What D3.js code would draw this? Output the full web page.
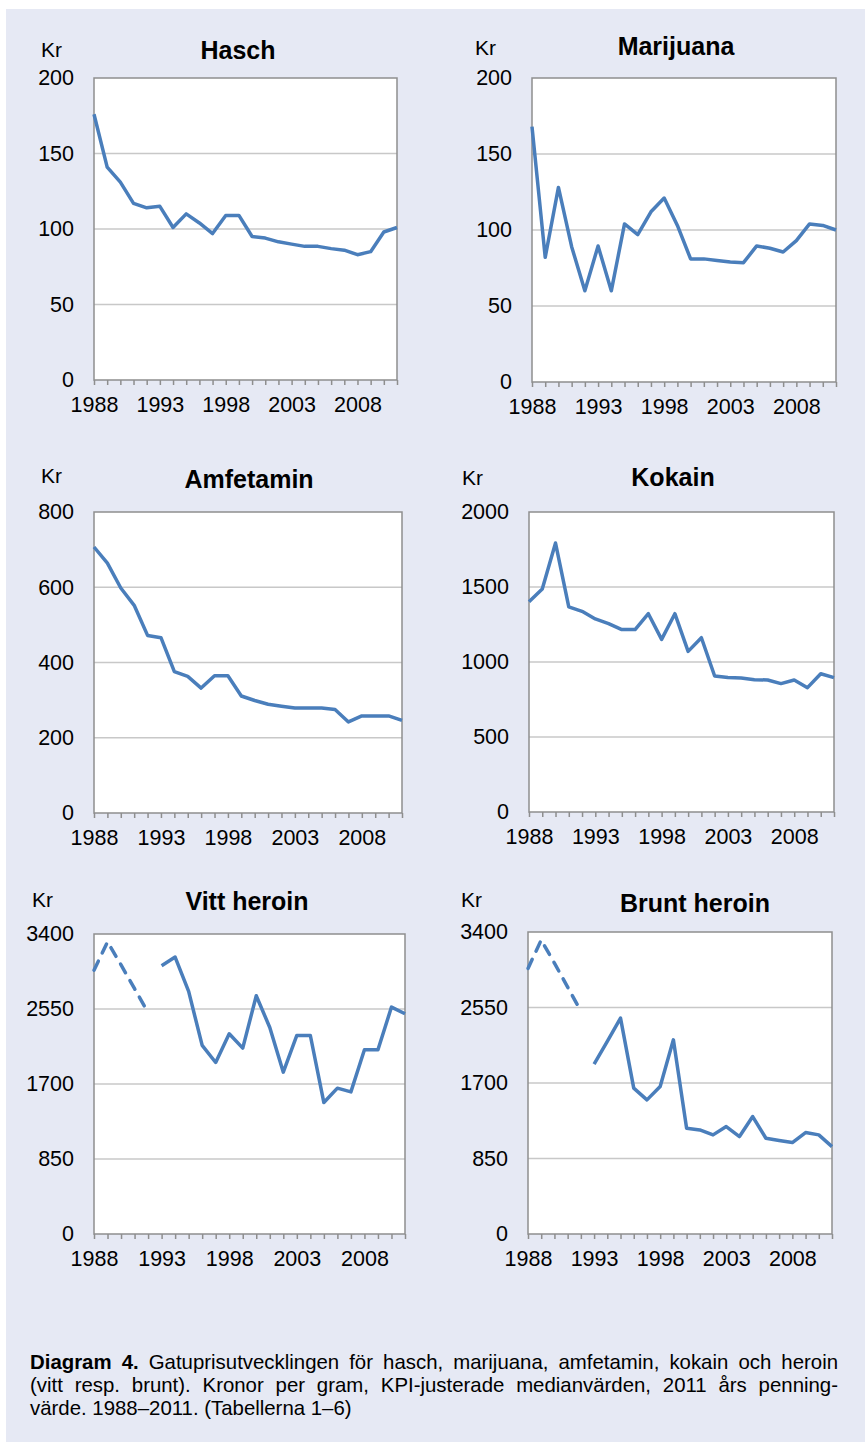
<!DOCTYPE html>
<html>
<head>
<meta charset="utf-8">
<script src="https://cdn.jsdelivr.net/npm/d3@7"></script>
<style>
  body { margin: 0; background: #fff; }
  svg { display: block; font-family: 'Liberation Sans', Arial, sans-serif; }
</style>
</head>
<body>
<script>
// years on the x axis
const years = [1988, 1989, 1990, 1991, 1992, 1993, 1994, 1995, 1996, 1997, 1998, 1999,
               2000, 2001, 2002, 2003, 2004, 2005, 2006, 2007, 2008, 2009, 2010, 2011];
const yearLabels = [1988, 1993, 1998, 2003, 2008];

// kronor per gram
const hasch = [176, 141, 131, 117, 114, 115, 101, 110, 104, 97, 109, 109,
               95, 94, 91.5, 90, 88.5, 88.5, 87, 86, 83, 85, 98, 101];
const marijuana = [168, 82, 128, 89, 60, 89.5, 60, 104, 97, 112, 121, 103,
                   81, 81, 80, 79, 78.5, 89.5, 88, 85.5, 93, 104, 103, 100];
const amfetamin = [707, 664, 598, 552, 472, 466, 376, 363, 332, 365, 365, 311,
                   299, 289, 284, 279, 279, 279, 275, 242, 258, 258, 258, 246];
const kokain = [1402, 1487, 1793, 1367, 1338, 1287, 1256, 1216, 1216, 1322, 1151, 1322,
                1071, 1162, 907, 896, 893, 882, 880, 856, 880, 829, 922, 896];
// heroin 1988-1992 (not split in white/brown), drawn dashed
const heroinTidig = [2990, 3310, 3050, 2780, 2510, null, null, null, null, null, null, null,
                     null, null, null, null, null, null, null, null, null, null, null, null];
const vittHeroin = [null, null, null, null, null, 3041, 3139, 2749, 2137, 1944, 2269, 2107,
                    2700, 2341, 1834, 2250, 2250, 1490, 1653, 1611, 2088, 2088, 2572, 2496];
const bruntHeroin = [null, null, null, null, null, 1912, 2168, 2431, 1642, 1510, 1660, 2186,
                     1191, 1172, 1116, 1210, 1097, 1322, 1078, 1052, 1029, 1142, 1116, 984];

const ticksHasch = [0, 50, 100, 150, 200];
const ticksAmf = [0, 200, 400, 600, 800];
const ticksKokain = [0, 500, 1000, 1500, 2000];
const ticksHeroin = [0, 850, 1700, 2550, 3400];

const titles = ['Hasch', 'Marijuana', 'Amfetamin', 'Kokain', 'Vitt heroin', 'Brunt heroin'];

const captionBold = 'Diagram 4.';
const captionLines = [
    ' Gatuprisutvecklingen för hasch, marijuana, amfetamin, kokain och heroin',
    '(vitt resp. brunt). Kronor per gram, KPI-justerade medianvärden, 2011 års penning-',
    'värde. 1988–2011. (Tabellerna 1–6)'
];

// panel layout
const panels = [
    {title: titles[0], ticks: ticksHasch, series: [hasch], l: 94, r: 397, t: 78, b: 380, tx: 238, ty: 59, kx: 41, ky: 57},
    {title: titles[1], ticks: ticksHasch, series: [marijuana], l: 532, r: 836, t: 78, b: 382, tx: 676, ty: 55, kx: 475, ky: 55},
    {title: titles[2], ticks: ticksAmf, series: [amfetamin], l: 94, r: 402, t: 512, b: 813, tx: 249, ty: 488, kx: 41, ky: 483},
    {title: titles[3], ticks: ticksKokain, series: [kokain], l: 529, r: 834, t: 512, b: 812, tx: 673, ty: 486, kx: 462, ky: 485},
    {title: titles[4], ticks: ticksHeroin, series: [vittHeroin], dashed: heroinTidig, l: 94, r: 405, t: 934, b: 1234, tx: 247, ty: 910, kx: 32, ky: 907},
    {title: titles[5], ticks: ticksHeroin, series: [bruntHeroin], dashed: heroinTidig, l: 528, r: 832, t: 932, b: 1234, tx: 695, ty: 912, kx: 461, ky: 907}
];

const W = 865, H = 1442;
const lineColor = '#4a7ebb';
const fontFam = "'Liberation Sans', Arial, sans-serif";

const svg = d3.select('body').append('svg')
    .attr('width', W)
    .attr('height', H);

svg.append('rect')
    .attr('x', 6).attr('y', 9)
    .attr('width', W - 6).attr('height', H - 9)
    .attr('fill', '#e6e9f4');

panels.forEach(p => {
    const g = svg.append('g');

    const x = d3.scaleLinear()
        .domain([years[0], years[years.length - 1]])
        .range([p.l, p.r]);
    const y = d3.scaleLinear()
        .domain([p.ticks[0], p.ticks[p.ticks.length - 1]])
        .range([p.b, p.t]);

    g.append('rect')
        .attr('x', p.l).attr('y', p.t)
        .attr('width', p.r - p.l).attr('height', p.b - p.t)
        .attr('fill', '#fff');

    // gridlines
    g.selectAll('.grid')
        .data(p.ticks.slice(1, -1))
        .enter()
        .append('line')
        .attr('x1', p.l).attr('x2', p.r)
        .attr('y1', d => y(d)).attr('y2', d => y(d))
        .attr('stroke', '#c8c8c8')
        .attr('stroke-width', 1.5);

    // frame
    g.append('rect')
        .attr('x', p.l).attr('y', p.t)
        .attr('width', p.r - p.l).attr('height', p.b - p.t)
        .attr('fill', 'none')
        .attr('stroke', '#8e8e8e')
        .attr('stroke-width', 1.5);

    const xAxis = d3.axisBottom(x)
        .tickValues(years)
        .tickSize(5)
        .tickPadding(12)
        .tickFormat(d => yearLabels.includes(d) ? d : '');

    const xg = g.append('g')
        .attr('transform', 'translate(0,' + p.b + ')')
        .call(xAxis);
    xg.select('.domain').remove();
    xg.selectAll('line').attr('stroke', '#8e8e8e').attr('stroke-width', 1.5);
    xg.selectAll('text')
        .attr('fill', '#000')
        .style('font-size', '21.5px')
        .style('font-family', fontFam);

    const yAxis = d3.axisLeft(y)
        .tickValues(p.ticks)
        .tickSize(0)
        .tickPadding(20)
        .tickFormat(d3.format('d'));

    const yg = g.append('g')
        .attr('transform', 'translate(' + p.l + ',0)')
        .call(yAxis);
    yg.select('.domain').remove();
    yg.selectAll('text')
        .attr('fill', '#000')
        .style('font-size', '21.5px')
        .style('font-family', fontFam);

    const line = d3.line()
        .defined(d => d != null)
        .x((d, i) => x(years[i]))
        .y(d => y(d));

    if (p.dashed) {
        g.append('path')
            .datum(p.dashed)
            .attr('d', line)
            .attr('fill', 'none')
            .attr('stroke', lineColor)
            .attr('stroke-width', 3.5)
            .attr('stroke-linecap', 'round')
            .attr('stroke-dasharray', '10,9');
    }

    p.series.forEach(s => {
        g.append('path')
            .datum(s)
            .attr('d', line)
            .attr('fill', 'none')
            .attr('stroke', lineColor)
            .attr('stroke-width', 3.5)
            .attr('stroke-linejoin', 'round');
    });

    g.append('text')
        .attr('x', p.tx).attr('y', p.ty)
        .attr('text-anchor', 'middle')
        .style('font-size', '25px')
        .style('font-weight', 'bold')
        .text(p.title);

    g.append('text')
        .attr('x', p.kx).attr('y', p.ky)
        .style('font-size', '21px')
        .text('Kr');
});

// caption, justified lines
const capX = 30, capW = 808, capY = [1369, 1392, 1415];
captionLines.forEach((txt, i) => {
    const t = svg.append('text')
        .attr('x', capX).attr('y', capY[i])
        .style('font-size', '20.4px');
    if (i === 0) {
        t.append('tspan').style('font-weight', 'bold').text(captionBold);
    }
    t.append('tspan').text(txt);
    if (i < 2) {
        const natural = t.node().getComputedTextLength();
        if (natural < capW) {
            const spaces = (i === 0 ? captionBold + txt : txt).split(' ').length - 1;
            t.style('word-spacing', ((capW - natural) / spaces) + 'px');
        } else {
            t.attr('textLength', capW).attr('lengthAdjust', 'spacingAndGlyphs');
        }
    }
});
</script>
</body>
</html>
